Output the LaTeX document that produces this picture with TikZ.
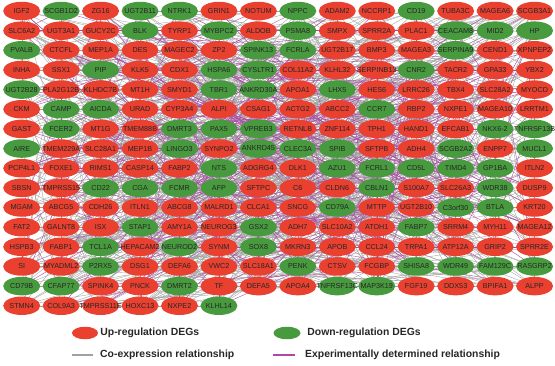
\documentclass[tikz,border=0pt]{standalone}
\usepackage{fontspec}
\setmainfont{Liberation Sans}
\usepackage{tikz}
\usetikzlibrary{shapes.geometric,positioning}
\definecolor{upred}{RGB}{233,64,48}
\definecolor{dngreen}{RGB}{72,154,62}
\definecolor{coexgray}{RGB}{160,160,160}
\definecolor{exppurple}{RGB}{176,72,168}
\pgfdeclarelayer{bg}
\pgfsetlayers{bg,main}
\tikzset{
  gene/.style={ellipse, minimum width=37pt, minimum height=18.5pt, inner sep=0pt,
    text=black!85, font=\fontsize{7.2}{8}\selectfont},
  up/.style={gene, fill=upred},
  dn/.style={gene, fill=dngreen},
  coex/.style={coexgray, line width=0.35pt},
  expd/.style={exppurple, line width=0.4pt},
  lgtext/.style={inner sep=1pt, font=\fontsize{10.4}{12}\selectfont\bfseries, text=black!85}
}

\begin{document}
\begin{tikzpicture}[x=1pt, y=-1pt]
  \useasboundingbox (0,0) rectangle (555,365);
  \foreach \g/\t [count=\c from 0] in {IGF2/up, SCGB1D2/dn, ZG16/up, UGT2B11/dn, NTRK1/dn, GRIN1/up, NOTUM/up, NPPC/dn, ADAM2/up, NCCRP1/up, CD19/dn, TUBA3C/up, MAGEA6/up, SCGB3A1/up}
    \node[\t] (n-0-\c) at (\c*39.45+21.7, 0*19.65+11) {\makebox[0pt]{\g}};
  \foreach \g/\t [count=\c from 0] in {SLC6A2/up, UGT3A1/up, GUCY2C/up, BLK/dn, TYRP1/up, MYBPC2/dn, ALDOB/up, PSMA8/dn, SMPX/up, SPRR2A/up, PLAC1/up, CEACAM8/dn, MID2/dn, HP/dn}
    \node[\t] (n-1-\c) at (\c*39.45+21.7, 1*19.65+11) {\makebox[0pt]{\g}};
  \foreach \g/\t [count=\c from 0] in {PVALB/dn, CTCFL/up, MEP1A/up, DES/up, MAGEC2/up, ZP2/up, SPINK13/dn, FCRLA/dn, UGT2B17/up, BMP3/up, MAGEA3/up, SERPINA9/dn, CEND1/up, XPNPEP2/up}
    \node[\t] (n-2-\c) at (\c*39.45+21.7, 2*19.65+11) {\makebox[0pt]{\g}};
  \foreach \g/\t [count=\c from 0] in {INHA/up, SSX1/up, PIP/dn, KLK5/up, CDX1/up, HSPA6/dn, CYSLTR1/dn, COL11A2/up, KLHL32/up, SERPINB13/up, CNR2/dn, TACR2/up, GPA33/up, YBX2/up}
    \node[\t] (n-3-\c) at (\c*39.45+21.7, 3*19.65+11) {\makebox[0pt]{\g}};
  \foreach \g/\t [count=\c from 0] in {UGT2B28/dn, PLA2G12B/up, KLHDC7B/up, MT1H/up, SMYD1/up, TBR1/dn, ANKRD30A/dn, APOA1/up, LHX5/dn, HES6/up, LRRC26/up, TBX4/up, SLC28A2/up, MYOCD/up}
    \node[\t] (n-4-\c) at (\c*39.45+21.7, 4*19.65+11) {\makebox[0pt]{\g}};
  \foreach \g/\t [count=\c from 0] in {CKM/up, CAMP/dn, AICDA/dn, URAD/up, CYP3A4/up, ALPI/up, CSAG1/up, ACTG2/up, ABCC2/up, CCR7/dn, RBP2/up, NXPE1/up, MAGEA10/up, LRRTM1/up}
    \node[\t] (n-5-\c) at (\c*39.45+21.7, 5*19.65+11) {\makebox[0pt]{\g}};
  \foreach \g/\t [count=\c from 0] in {GAST/up, FCER2/dn, MT1G/up, TMEM88B/up, DMRT3/dn, PAX5/dn, VPREB3/dn, RETNLB/up, ZNF114/up, TPH1/up, HAND1/up, EFCAB1/up, NKX6-2/dn, TNFRSF13B/dn}
    \node[\t] (n-6-\c) at (\c*39.45+21.7, 6*19.65+11) {\makebox[0pt]{\g}};
  \foreach \g/\t [count=\c from 0] in {AIRE/dn, TMEM229A/up, SLC28A1/up, MEP1B/up, LINGO3/dn, SYNPO2/up, ANKRD45/dn, CLEC3A/dn, SPIB/dn, SFTPB/up, ADH4/up, SCGB2A2/dn, ENPP7/up, MUCL1/dn}
    \node[\t] (n-7-\c) at (\c*39.45+21.7, 7*19.65+11) {\makebox[0pt]{\g}};
  \foreach \g/\t [count=\c from 0] in {PCP4L1/up, FOXE1/up, RIMS1/up, CASP14/up, FABP2/up, NTS/dn, ADGRG4/up, DLK1/up, AZU1/dn, FCRL1/dn, CD5L/dn, TIMD4/dn, GP1BA/dn, ITLN2/up}
    \node[\t] (n-8-\c) at (\c*39.45+21.7, 8*19.65+11) {\makebox[0pt]{\g}};
  \foreach \g/\t [count=\c from 0] in {SBSN/up, TMPRSS15/up, CD22/dn, CGA/dn, FCMR/dn, AFP/dn, SFTPC/up, C6/up, CLDN6/up, CBLN1/dn, S100A7/up, SLC26A3/up, WDR38/dn, DUSP9/up}
    \node[\t] (n-9-\c) at (\c*39.45+21.7, 9*19.65+11) {\makebox[0pt]{\g}};
  \foreach \g/\t [count=\c from 0] in {MGAM/up, ABCG5/up, CDH26/up, ITLN1/up, ABCG8/up, MALRD1/up, CLCA1/up, SNCG/up, CD79A/dn, MTTP/up, UGT2B10/up, C3orf30/dn, BTLA/dn, KRT20/up}
    \node[\t] (n-10-\c) at (\c*39.45+21.7, 10*19.65+11) {\makebox[0pt]{\g}};
  \foreach \g/\t [count=\c from 0] in {FAT2/up, GALNT8/up, ISX/up, STAP1/dn, AMY1A/up, NEUROG3/up, GSX2/dn, ADH7/up, SLC10A2/up, ATOH1/up, FABP7/dn, SRRM4/up, MYH11/up, MAGEA12/up}
    \node[\t] (n-11-\c) at (\c*39.45+21.7, 11*19.65+11) {\makebox[0pt]{\g}};
  \foreach \g/\t [count=\c from 0] in {HSPB3/up, FABP1/up, TCL1A/dn, HEPACAM2/up, NEUROD2/dn, SYNM/up, SOX8/dn, MKRN3/up, APOB/up, CCL24/up, TRPA1/up, ATP12A/up, GRIP2/up, SPRR2E/up}
    \node[\t] (n-12-\c) at (\c*39.45+21.7, 12*19.65+11) {\makebox[0pt]{\g}};
  \foreach \g/\t [count=\c from 0] in {SI/up, MYADML2/up, P2RX5/dn, DSG1/up, DEFA6/up, VWC2/up, SLC18A1/up, PENK/dn, CTSV/up, FCGBP/up, SHISA8/dn, WDR49/dn, FAM129C/dn, RASGRP2/dn}
    \node[\t] (n-13-\c) at (\c*39.45+21.7, 13*19.65+11) {\makebox[0pt]{\g}};
  \foreach \g/\t [count=\c from 0] in {CD79B/dn, CFAP77/dn, SPINK4/up, PNCK/up, DMRT2/dn, TF/up, DEFA5/up, APOA4/up, TNFRSF13C/dn, MAP3K19/dn, FGF19/up, DDX53/up, BPIFA1/up, ALPP/up}
    \node[\t] (n-14-\c) at (\c*39.45+21.7, 14*19.65+11) {\makebox[0pt]{\g}};
  \foreach \g/\t [count=\c from 0] in {STMN4/up, COL9A3/up, TMPRSS11E/up, HOXC13/up, NXPE2/up, KLHL14/dn}
    \node[\t] (n-15-\c) at (\c*39.45+21.7, 15*19.65+11) {\makebox[0pt]{\g}};

  \pgfmathsetseed{2718}
  \begin{pgfonlayer}{bg}
    \foreach \i in {1,...,900}{
      \pgfmathtruncatemacro\ka{random(0,215)}
      \pgfmathtruncatemacro\kb{random(0,215)}
      \pgfmathtruncatemacro\ra{\ka/14}
      \pgfmathtruncatemacro\ca{\ka-14*\ra}
      \pgfmathtruncatemacro\rb{\kb/14}
      \pgfmathtruncatemacro\cb{\kb-14*\rb}
      \draw[coex] (n-\ra-\ca.center) -- (n-\rb-\cb.center);
    }
    \foreach \i in {1,...,200}{
      \pgfmathtruncatemacro\ka{random(0,215)}
      \pgfmathtruncatemacro\kb{random(0,215)}
      \pgfmathtruncatemacro\ra{\ka/14}
      \pgfmathtruncatemacro\ca{\ka-14*\ra}
      \pgfmathtruncatemacro\rb{\kb/14}
      \pgfmathtruncatemacro\cb{\kb-14*\rb}
      \draw[expd] (n-\ra-\ca.center) -- (n-\rb-\cb.center);
    }
  \end{pgfonlayer}

  \node[up, minimum width=26pt, minimum height=12.5pt] (lgup) at (85,333) {};
  \node[lgtext, right=1pt of lgup] (lgupt) {Up-regulation DEGs};
  \node[dn, minimum width=27pt, minimum height=12.5pt] (lgdn) at (287,333) {};
  \node[lgtext, right=5.5pt of lgdn] (lgdnt) {Down-regulation DEGs};
  \coordinate (lgca) at (72,355);
  \coordinate (lgcb) at (93,355);
  \draw[coex, line width=2.6pt] (lgca) -- (lgcb);
  \node[lgtext, right=6pt of lgcb] (lgct) {Co-expression relationship};
  \coordinate (lgea) at (273,355);
  \coordinate (lgeb) at (295,355);
  \draw[expd, line width=2.6pt] (lgea) -- (lgeb);
  \node[lgtext, right=9pt of lgeb] (lget) {Experimentally determined relationship};
\end{tikzpicture}
\end{document}
